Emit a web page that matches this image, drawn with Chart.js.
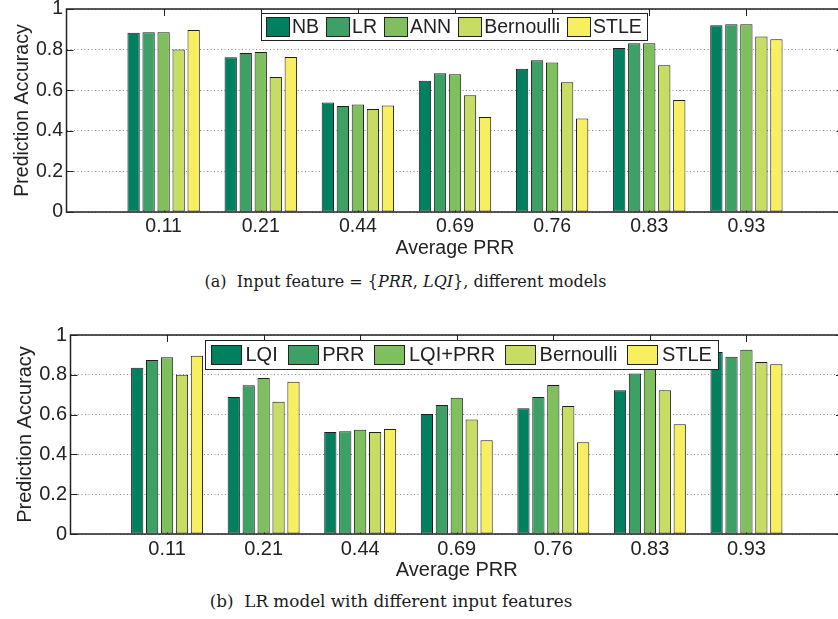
<!DOCTYPE html>
<html><head><meta charset="utf-8">
<script src="https://cdn.jsdelivr.net/npm/chart.js@4.4.1/dist/chart.umd.min.js"></script>
<style>
html,body{margin:0;padding:0;background:#fff;overflow:hidden;width:838px;height:619px;position:relative;}
canvas{position:absolute;left:0;}
#c1{top:0}
#c2{top:320px}
.cap{position:absolute;font-family:"DejaVu Serif",serif;font-size:16px;color:#1a1a1a;white-space:nowrap;transform:translate(-50%,-50%);}
</style></head><body>
<canvas id="c1" width="850" height="260"></canvas>
<canvas id="c2" width="850" height="262"></canvas>
<div class="cap" style="left:405.5px;top:281px">(a)&nbsp; Input feature = {<i>PRR</i>, <i>LQI</i>}, different models</div>
<div class="cap" style="left:391px;top:601px;font-size:16.8px">(b)&nbsp; LR model with different input features</div>
<script>
// ---- data ----
const categories = ['0.11', '0.21', '0.44', '0.69', '0.76', '0.83', '0.93'];
const yTicks = [0, 0.2, 0.4, 0.6, 0.8, 1];

const modelNames = ['NB', 'LR', 'ANN', 'Bernoulli', 'STLE'];
const nbAcc        = [0.883, 0.762, 0.540, 0.647, 0.706, 0.808, 0.920];
const lrAcc        = [0.885, 0.783, 0.522, 0.683, 0.747, 0.831, 0.925];
const annAcc       = [0.885, 0.788, 0.529, 0.678, 0.736, 0.831, 0.925];
const bernoulliAcc = [0.800, 0.665, 0.507, 0.575, 0.639, 0.723, 0.865];
const stleAcc      = [0.897, 0.764, 0.525, 0.468, 0.460, 0.552, 0.851];

const featureNames  = ['LQI', 'PRR', 'LQI+PRR', 'Bernoulli', 'STLE'];
const lqiAcc        = [0.836, 0.688, 0.513, 0.603, 0.632, 0.722, 0.915];
const prrAcc        = [0.874, 0.747, 0.516, 0.648, 0.688, 0.806, 0.891];
const lqiPrrAcc     = [0.888, 0.784, 0.524, 0.685, 0.749, 0.836, 0.926];
const bernoulliAcc2 = [0.800, 0.665, 0.513, 0.576, 0.643, 0.722, 0.864];
const stleAcc2      = [0.896, 0.765, 0.528, 0.471, 0.461, 0.552, 0.853];

const palette = ['#00805f', '#3da064', '#80bf5e', '#c6dc62', '#f8ef60'];
const textColor = '#222';
const fontFamily = '"Liberation Sans", Arial, Helvetica, sans-serif';

// ---- plugins ----
const framePlugin = {
  id: 'frame',
  beforeDatasetsDraw(chart) {
    const {ctx, chartArea: a, scales: {x, y}} = chart;
    ctx.save();
    ctx.strokeStyle = '#222';
    ctx.lineWidth = 1;
    ctx.beginPath();
    x.ticks.forEach(t => {
      const px = Math.round(x.getPixelForValue(t.value)) + 0.5;
      ctx.moveTo(px, a.top); ctx.lineTo(px, a.top + 7);
      ctx.moveTo(px, a.bottom); ctx.lineTo(px, a.bottom - 7);
    });
    y.ticks.forEach(t => {
      const py = Math.round(y.getPixelForValue(t.value)) + 0.5;
      ctx.moveTo(a.left, py); ctx.lineTo(a.left + 7, py);
      ctx.moveTo(a.right, py); ctx.lineTo(a.right - 7, py);
    });
    ctx.stroke();
    ctx.restore();
  },
  afterDatasetsDraw(chart, args, o) {
    const {ctx, chartArea: a} = chart;
    ctx.save();
    ctx.strokeStyle = '#222';
    ctx.lineWidth = 1.5;
    ctx.strokeRect(a.left, a.top, a.right - a.left, a.bottom - a.top);
    // legend box
    ctx.font = `${o.fontSize}px ${fontFamily}`;
    const items = chart.data.datasets.map(d => ({label: d.label, color: d.backgroundColor, w: ctx.measureText(d.label).width}));
    const width = o.pad * 2 + items.reduce((s, it) => s + o.swatchW + o.swatchGap + it.w, 0) + o.itemGap * (items.length - 1);
    const x0 = Math.round(a.left + o.offsetX), y0 = Math.round(a.top + o.offsetY);
    ctx.fillStyle = '#fff';
    ctx.fillRect(x0, y0, width, o.height);
    ctx.lineWidth = 1;
    ctx.strokeRect(x0 + 0.5, y0 + 0.5, Math.round(width), o.height);
    let cx = x0 + o.pad;
    const cy = y0 + o.height / 2;
    items.forEach(it => {
      const sx = Math.round(cx), sy = Math.round(cy - o.swatchH / 2);
      ctx.fillStyle = it.color;
      ctx.fillRect(sx, sy, o.swatchW, o.swatchH);
      ctx.strokeRect(sx + 0.5, sy + 0.5, o.swatchW - 1, o.swatchH - 1);
      cx += o.swatchW + o.swatchGap;
      ctx.fillStyle = textColor;
      ctx.textBaseline = 'middle';
      ctx.textAlign = 'left';
      ctx.fillText(it.label, cx, cy + 1);
      cx += it.w + o.itemGap;
    });
    ctx.restore();
  }
};

function makeChart(id, names, series, cfg) {
  const font = {family: fontFamily, size: cfg.fontSize};
  return new Chart(document.getElementById(id), {
    type: 'bar',
    data: {
      datasets: names.map((n, k) => ({
        label: n,
        data: series[k].map((v, i) => ({x: i + 1, y: v})),
        backgroundColor: palette[k],
        borderColor: '#1e1e1e',
        borderWidth: 1,
        borderSkipped: false,
        categoryPercentage: 0.773,
        barPercentage: 0.82
      }))
    },
    options: {
      responsive: false,
      animation: false,
      devicePixelRatio: 1,
      layout: {padding: {top: cfg.padTop, right: cfg.padRight, left: 0, bottom: 0}},
      plugins: {
        legend: {display: false},
        tooltip: {enabled: false},
        frame: cfg.legend
      },
      scales: {
        x: {
          type: 'linear', min: 0, max: categories.length + 1, offset: false,
          afterBuildTicks: s => { s.ticks = categories.map((c, i) => ({value: i + 1})); },
          afterFit: s => { s.height = cfg.xAxisHeight; s.paddingLeft = 0; s.paddingRight = 0; },
          grid: {display: false, drawTicks: false},
          border: {display: false},
          ticks: {callback: v => categories[v - 1] ?? '', font, color: textColor, padding: cfg.xTickPad, maxRotation: 0, autoSkip: false},
          title: {display: true, text: 'Average PRR', font, color: textColor, padding: {top: cfg.xTitlePad, bottom: 0}}
        },
        y: {
          min: 0, max: 1,
          afterBuildTicks: s => { s.ticks = yTicks.map(v => ({value: v})); },
          afterFit: s => { s.width = cfg.yAxisWidth; s.paddingTop = 0; s.paddingBottom = 0; },
          grid: {color: '#8a8a8a', lineWidth: 1, drawTicks: false},
          border: {display: false, dash: [1, 2.5]},
          ticks: {font, color: textColor, padding: 3.5, callback: v => String(v)},
          title: {display: true, text: 'Prediction Accuracy', font, color: textColor, padding: {top: cfg.yTitlePad, bottom: 0}}
        }
      }
    },
    plugins: [framePlugin]
  });
}

makeChart('c1', modelNames, [nbAcc, lrAcc, annAcc, bernoulliAcc, stleAcc], {
  fontSize: 19.5, padTop: 9, padRight: 6.5, yAxisWidth: 66.5, xAxisHeight: 48,
  xTickPad: 3.3, xTitlePad: 3.3, yTitlePad: 11,
  legend: {fontSize: 19.5, offsetX: 194.5, offsetY: 4, height: 27, pad: 5, swatchW: 24, swatchH: 20, swatchGap: 2, itemGap: 7}
});
makeChart('c2', featureNames, [lqiAcc, prrAcc, lqiPrrAcc, bernoulliAcc2, stleAcc2], {
  fontSize: 20, padTop: 15, padRight: 7, yAxisWidth: 70.5, xAxisHeight: 48,
  xTickPad: 3, xTitlePad: 1.5, yTitlePad: 13,
  legend: {fontSize: 20, offsetX: 134.5, offsetY: 5, height: 29, pad: 6, swatchW: 31, swatchH: 20, swatchGap: 3.5, itemGap: 10}
});
</script>
</body></html>
